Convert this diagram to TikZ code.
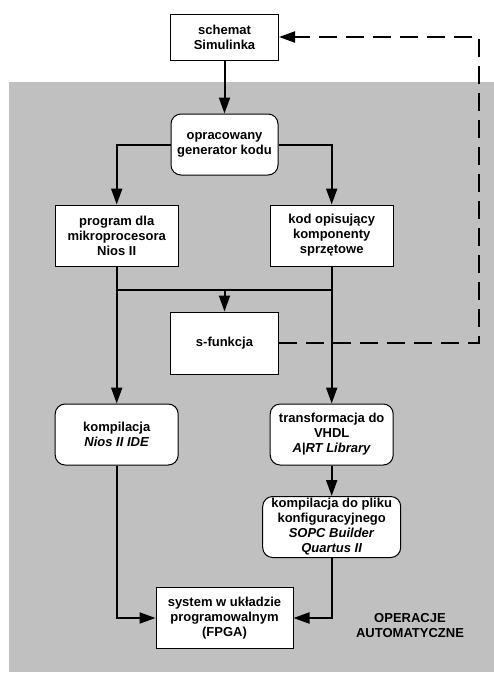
\documentclass[tikz,border=0pt]{standalone}
\usepackage{fontspec}
\setmainfont{Liberation Sans}
\usetikzlibrary{arrows.meta,positioning,calc}
\definecolor{bggray}{RGB}{192,192,192}

\begin{document}
\begin{tikzpicture}[
    x=1pt, y=-1pt,
    block/.style={rectangle, draw=black, fill=white, line width=1pt, inner sep=1pt, align=center, font=\fontsize{13}{15}\selectfont\bfseries},
    rblock/.style={block, rounded corners=10pt},
    arrow/.style={-{Triangle[length=16pt,width=11pt]}, line width=2pt},
    line/.style={line width=2pt},
    dasharrow/.style={arrow, dash pattern=on 18pt off 9pt},
    note/.style={font=\fontsize{13}{15}\selectfont\bfseries, align=center}
]
\useasboundingbox (0,0) rectangle (494,673);

% Automatic operations area
\fill[bggray] (9,82) rectangle (494,672);
\node[note] (auto) at (410,626) {OPERACJE\\AUTOMATYCZNE};

% Blocks
\node[block, minimum width=108pt, minimum height=46pt] (simulink) at (224.5,37) {schemat\\Simulinka};
\node[rblock, minimum width=107pt, minimum height=61pt] (generator) at (224.5,144.5) {opracowany\\generator kodu};

\node[block, minimum width=123pt, minimum height=61pt] (program) at (116.7,235.5) {program dla\\mikroprocesora\\Nios II};
\node[block, minimum width=123pt, minimum height=61pt] (kod) at (331.7,235.5) {kod opisujący\\komponenty\\sprzętowe};

\node[block, minimum width=108pt, minimum height=62pt] (sfunkcja) at (224.5,343) {s-funkcja};

\node[rblock, minimum width=123pt, minimum height=61pt] (niosc) at (116.7,434.5) {kompilacja\\\textit{Nios II IDE}};
\node[rblock, minimum width=123pt, minimum height=61pt] (vhdl) at (331.7,434.5) {transformacja do\\VHDL\\\textit{A|RT Library}};
\node[rblock, minimum width=138pt, minimum height=61pt] (quartus) at (331.7,527) {kompilacja do pliku\\konfiguracyjnego\\\textit{SOPC Builder}\\\textit{Quartus II}};

\node[block, minimum width=137pt, minimum height=61pt] (fpga) at (224.5,618) {system w układzie\\programowalnym\\(FPGA)};

% Connections
\coordinate (branch) at (224.5,290);
\coordinate (ret) at (479,0);

\draw[arrow] (simulink) -- (generator);
\draw[arrow] (generator.west) -| (program.north);
\draw[arrow] (generator.east) -| (kod.north);
\draw[arrow] (program) -- (niosc);
\draw[arrow] (kod) -- (vhdl);
\draw[line] (program.south |- branch) -- (kod.south |- branch);
\draw[arrow] (branch) -- (sfunkcja);
\draw[arrow] (vhdl) -- (quartus);
\draw[arrow] (niosc.south) |- (fpga.west);
\draw[arrow] (quartus.south) |- (fpga.east);

% Feedback
\draw[dasharrow] (sfunkcja.east) -- (sfunkcja.east -| ret) |- (simulink.east);

\end{tikzpicture}
\end{document}
